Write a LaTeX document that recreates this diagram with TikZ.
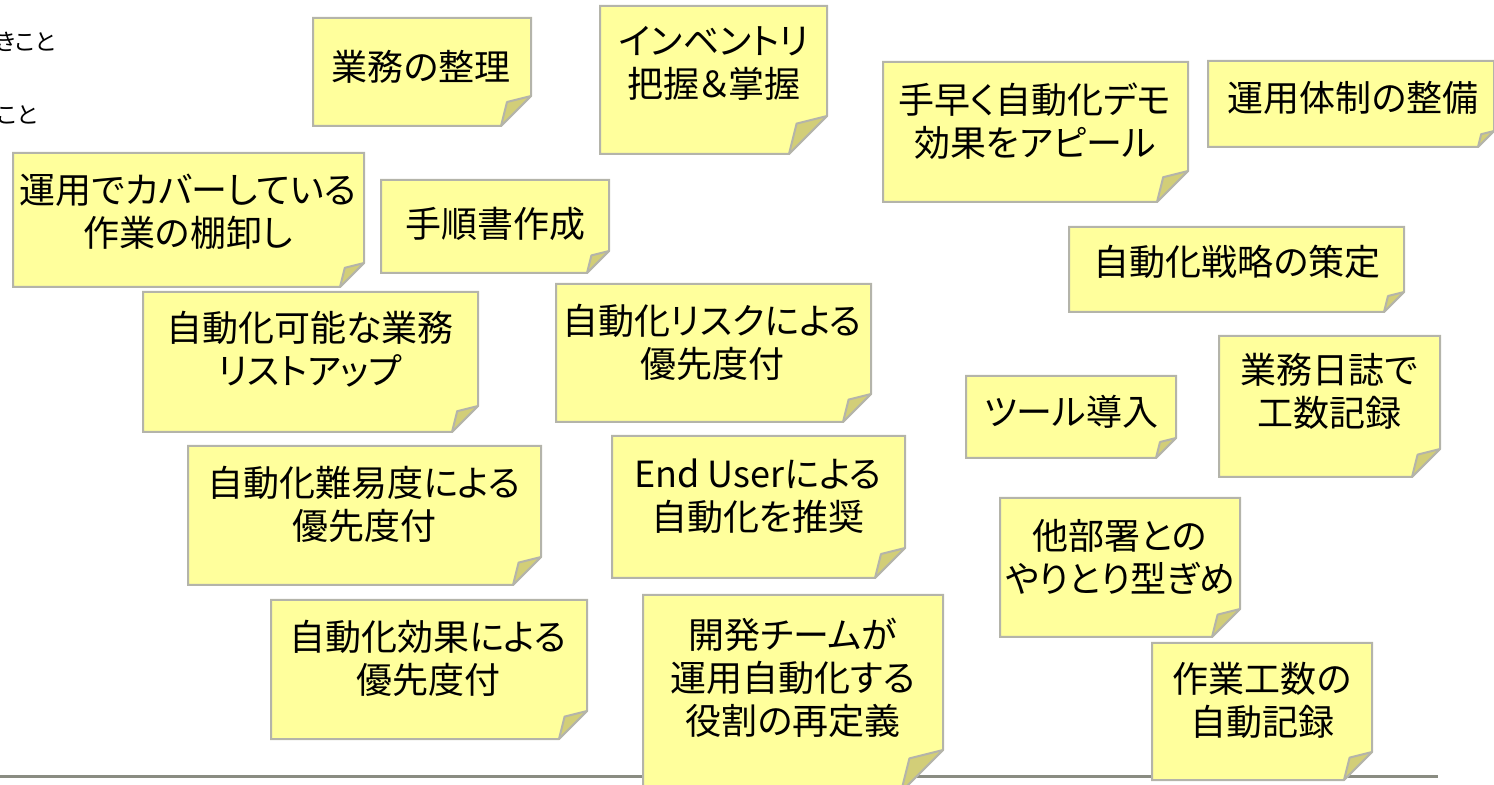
\documentclass[tikz,border=0pt]{standalone}
\usepackage{fontspec}
\newfontfamily\jpfont[RawFeature=+palt]{Noto Sans CJK JP}
\usetikzlibrary{positioning}

\definecolor{notefill}{HTML}{FFFF9C}
\definecolor{foldfill}{HTML}{D2CE78}
\definecolor{noteedge}{HTML}{B4B4AA}
\definecolor{rulegray}{HTML}{8A8C82}

\tikzset{
  note/.style={fill=notefill, draw=noteedge, line width=1pt},
  fold/.style={fill=foldfill, draw=noteedge, line width=1pt, line join=round},
  notetext/.style={font=\jpfont\fontsize{18}{21.5}\selectfont, align=center, inner sep=0pt},
  memo/.style={font=\jpfont\fontsize{11.5}{13}\selectfont, anchor=east, inner sep=0pt}
}

% sticky note: left, top, right, bottom, fold size
\newcommand{\sticky}[5]{%
  \path[note] (#1,#2) -- (#3,#2) -- (#3,#4-#5) -- (#3-#5,#4) -- (#1,#4) -- cycle;
  \path[fold] (#3,#4-#5) -- (#3-0.8*#5,#4-0.8*#5) -- (#3-#5,#4) -- cycle;
}

\begin{document}
\begin{tikzpicture}[x=0.5pt,y=-0.5pt]
  \useasboundingbox (0,0) rectangle (1494,785);
  \clip (0,0) rectangle (1494,785);

  \node [memo] (todo) at (56,42) {きこと};
  \node [memo] (done) at (38,115) {こと};

  \coordinate (rule_w) at (0,776);
  \coordinate (rule_e) at (1438,776);
  \draw [rulegray, line width=1.5pt] (rule_w) -- (rule_e);

  \sticky{313}{18}{531}{126}{30}
  \node [notetext] (sort) at (421,67) {業務の整理};
  \sticky{600}{6}{827}{154}{38}
  \node [notetext] (inventory) at (714,63.5) {インベントリ\\把握＆掌握};
  \sticky{883}{62}{1188}{202}{31}
  \node [notetext] (demo) at (1035,121.5) {手早く自動化デモ\\効果をアピール};
  \sticky{1208}{61}{1494}{147}{16}
  \node [notetext] (setup) at (1353,98) {運用体制の整備};
  \sticky{13}{153}{364}{287}{24}
  \node [notetext] (stocktake) at (188,211.5) {運用でカバーしている\\作業の棚卸し};
  \sticky{381}{180}{609}{273}{22}
  \node [notetext] (manual) at (495,224) {手順書作成};
  \sticky{1069}{227}{1404}{312}{20}
  \node [notetext] (strategy) at (1237,262) {自動化戦略の策定};
  \sticky{143}{292}{478}{432}{26}
  \node [notetext] (listup) at (310,349) {自動化可能な業務\\リストアップ};
  \sticky{556}{284}{871}{422}{28}
  \node [notetext] (risk) at (712,342) {自動化リスクによる\\優先度付};
  \sticky{966}{376}{1176}{458}{20}
  \node [notetext] (tool) at (1071,412) {ツール導入};
  \sticky{1219}{336}{1440}{477}{28}
  \node [notetext] (diary) at (1329,391.5) {業務日誌で\\工数記録};
  \sticky{188}{446}{541}{585}{28}
  \node [notetext] (difficulty) at (364,504.5) {自動化難易度による\\優先度付};
  \sticky{612}{436}{905}{578}{30}
  \node [notetext] (enduser) at (758,496) {End Userによる\\自動化を推奨};
  \sticky{1000}{498}{1240}{637}{28}
  \node [notetext] (otherdept) at (1120,557) {他部署との\\やりとり型ぎめ};
  \sticky{271}{600}{587}{739}{28}
  \node [notetext] (effect) at (428,658.5) {自動化効果による\\優先度付};
  \sticky{643}{595}{943}{792}{42}
  \node [notetext] (devteam) at (793,677.5) {開発チームが\\運用自動化する\\役割の再定義};
  \sticky{1152}{643}{1372}{780}{28}
  \node [notetext] (worklog) at (1262,700) {作業工数の\\自動記録};

\end{tikzpicture}
\end{document}
